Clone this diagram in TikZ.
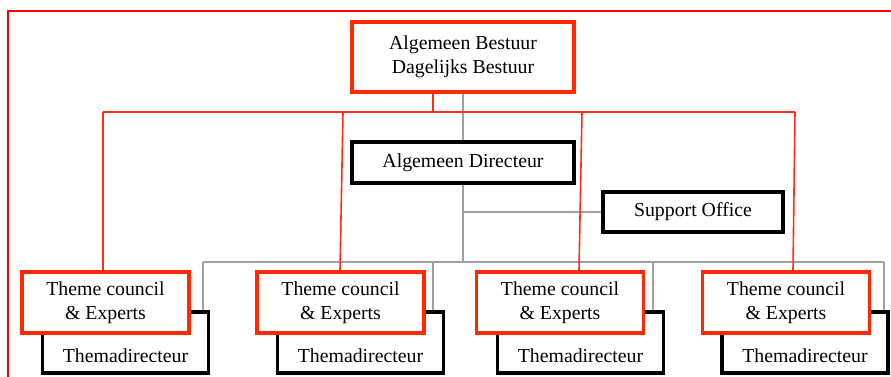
\documentclass[tikz,border=0pt]{standalone}
\usepackage{fontspec}
\setmainfont{Liberation Serif}
\definecolor{framered}{RGB}{255,0,0}
\definecolor{boxred}{RGB}{255,42,0}
\definecolor{linered}{RGB}{255,45,25}
\definecolor{linegray}{RGB}{160,160,160}
\tikzset{every picture/.style={line width=0.75pt}}
\tikzset{
  redbox/.style={draw=boxred, line width=3.6pt, fill=white, minimum width=167pt, minimum height=61pt, align=center, inner sep=0pt},
  blackbox/.style={draw=black, line width=3.4pt, fill=white, align=center, inner sep=0pt},
  themabox/.style={blackbox, minimum width=166pt, text height=50pt, text depth=11pt},
  redline/.style={draw=linered, line width=1.6pt},
  grayline/.style={draw=linegray, line width=1.7pt}
}

\begin{document}
\begin{tikzpicture}[x=1pt,y=1pt,yscale=-1,xscale=1,font=\fontsize{19.8}{23.5}\selectfont]
		\useasboundingbox (0,0) rectangle (891,376);

		%Shape: Frame
		\draw [draw=framered, line width=2.2pt]  (8,400) -- (8,11) -- (900,11) ;

		% Text Node
		\node [redbox, minimum width=222pt, minimum height=70pt] (bestuur) at (463,57) {Algemeen Bestuur\\Dagelijks Bestuur};
		% Text Node
		\node [blackbox, minimum width=222pt, minimum height=41pt] (directeur) at (463,162.5) {Algemeen Directeur};
		% Text Node
		\node [blackbox, minimum width=180pt, minimum height=40pt] (support) at (693,212) {Support Office};

		% Thema boxes
		\node [themabox] (thema1) at (125.5,342.5) {Themadirecteur};
		\node [themabox] (thema2) at (360.5,342.5) {Themadirecteur};
		\node [themabox] (thema3) at (580.5,342.5) {Themadirecteur};
		\node [themabox] (thema4) at (805,342.5) {Themadirecteur};

		% Theme council boxes
		\node [redbox] (council1) at (105.5,302.5) {Theme council\\\& Experts};
		\node [redbox] (council2) at (340.5,302.5) {Theme council\\\& Experts};
		\node [redbox] (council3) at (560,302.5) {Theme council\\\& Experts};
		\node [redbox] (council4) at (786,302.5) {Theme council\\\& Experts};

		%Straight Lines: grey hierarchy
		\coordinate (hub) at (463,262);
		\coordinate (g1) at (203,262);
		\coordinate (g2) at (433,262);
		\coordinate (g3) at (653,262);
		\coordinate (g4) at (884,262);
		\draw [grayline]  (bestuur.south) -- (directeur.north) ;
		\draw [grayline]  (directeur.south) -- (hub) ;
		\draw [grayline]  (directeur.south |- support.west) -- (support.west) ;
		\draw [grayline]  (g1) -- (g4) ;
		\draw [grayline]  (g1) -- (g1 |- thema1.north) ;
		\draw [grayline]  (g2) -- (g2 |- thema2.north) ;
		\draw [grayline]  (g3) -- (g3 |- thema3.north) ;
		\draw [grayline]  (g4) -- (g4 |- thema4.north) ;

		%Straight Lines: red lines to the councils
		\coordinate (r0) at (433,112);
		\coordinate (r1) at (103,112);
		\coordinate (r2) at (343,112);
		\coordinate (r3) at (582,112);
		\coordinate (r4) at (795,112);
		\draw [redline]  (r0 |- bestuur.south) -- (r0) ;
		\draw [redline]  (r1) -- (r4) ;
		\draw [redline]  (r1) -- (r1 |- council1.north) ;
		\draw [redline]  (r2) -- ([xshift=-3pt]r2 |- council2.north) ;
		\draw [redline]  (r3) -- ([xshift=-3pt]r3 |- council3.north) ;
		\draw [redline]  (r4) -- ([xshift=-2pt]r4 |- council4.north) ;

\end{tikzpicture}
\end{document}
